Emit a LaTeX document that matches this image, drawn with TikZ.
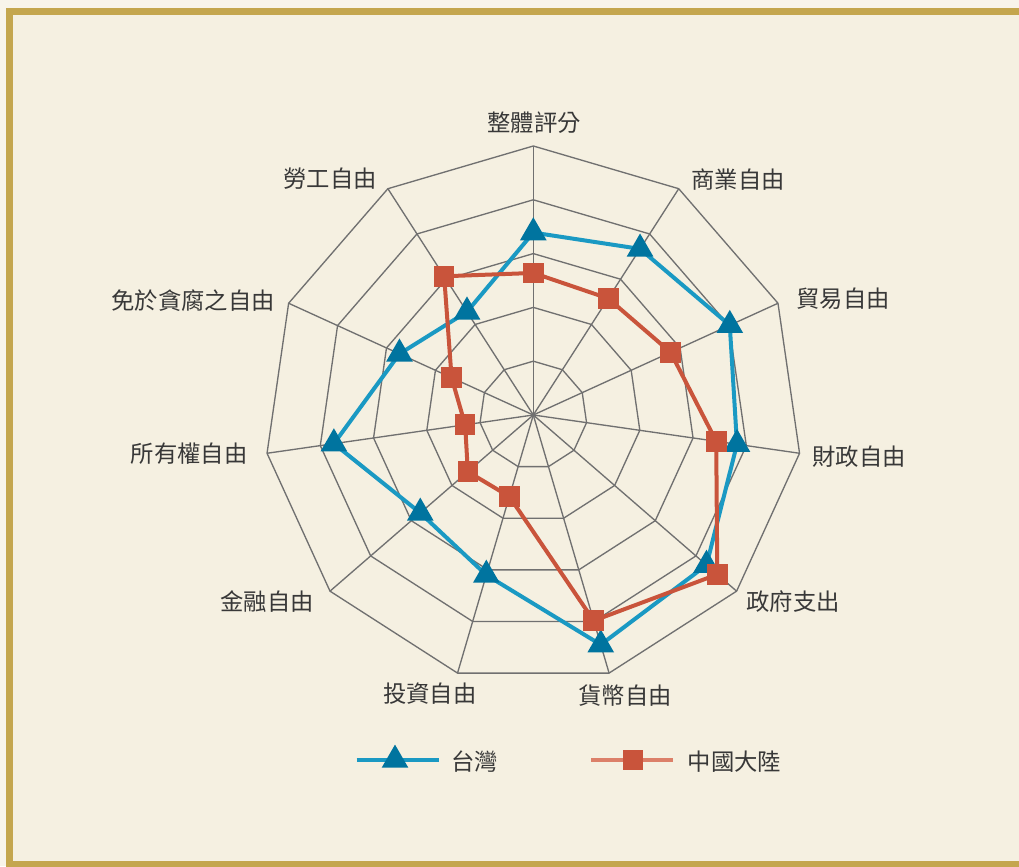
\documentclass[tikz,border=0pt]{standalone}
\usepackage{fontspec}
\setmainfont{Noto Sans CJK TC}
\usetikzlibrary{shapes.geometric}
\definecolor{outside}{HTML}{F8F4EA}
\definecolor{paper}{HTML}{F5F0E1}
\definecolor{goldframe}{HTML}{C4A64E}
\definecolor{gridgray}{HTML}{707070}
\definecolor{twline}{HTML}{1A99C3}
\definecolor{twmark}{HTML}{00749F}
\definecolor{cnline}{HTML}{C9543B}
\definecolor{cnleg}{HTML}{DC8069}
\definecolor{labeltext}{HTML}{383838}
\tikzset{
  gridline/.style={draw=gridgray, line width=1pt},
  twpath/.style={draw=twline, line width=3pt, line join=round},
  cnpath/.style={draw=cnline, line width=3pt, line join=round},
  twmarker/.style={regular polygon, regular polygon sides=3, fill=twmark, inner sep=0pt, minimum size=23.1pt},
  cnmarker/.style={rectangle, fill=cnline, inner sep=0pt, minimum size=15.5pt},
  axislabel/.style={inner sep=0pt, text=labeltext, font=\fontsize{17.5}{20}\selectfont}
}
\begin{document}
\begin{tikzpicture}[x=0.75pt,y=0.75pt]
            \useasboundingbox (0,0) rectangle (1019,866);
            \clip (0,0) rectangle (1019,866);
            \fill[outside] (0,0) rectangle (1019,866);
            \fill[paper] (9.7,1.25) rectangle (1030,854.7);
            \draw[goldframe, line width=5.6pt] (9.7,1.25) rectangle (1030,854.7);
            % radar grid, centre of the chart
            \begin{scope}[shift={(533.3,451)}]
            \coordinate (centre) at (0,0);
            \foreach \lev in {1,...,5}
                \draw[gridline] (90:{\lev*53.8}) \foreach \k in {1,...,10} {-- ({90-\k*360/11}:{\lev*53.8})} -- cycle;
            \foreach \k in {0,...,10}
                \draw[gridline] (centre) -- ({90-\k*360/11}:269);
            % data points
            \foreach \v [count=\k from 0] in {67.8,73.4,80.3,76.5,85.2,89.0,62.0,55.6,74.9,54.7,45.6}
                \coordinate (tw\k) at ({90-\k*360/11}:{\v*2.69});
            \foreach \v [count=\k from 0] in {52.8,51.5,56.1,68.7,90.5,79.7,31.6,32.2,25.6,33.4,61.3}
                \coordinate (cn\k) at ({90-\k*360/11}:{\v*2.69});
            \draw[twpath] (tw0) \foreach \k in {1,...,10} {-- (tw\k)} -- cycle;
            \foreach \k in {0,...,10}
                \node[twmarker] (twm\k) at (tw\k) {};
            \draw[cnpath] (cn0) \foreach \k in {1,...,10} {-- (cn\k)} -- cycle;
            \foreach \k in {0,...,10}
                \node[cnmarker] (cnm\k) at (cn\k) {};
            \end{scope}
            % axis labels
            \node[axislabel] (lab0) at (534,743.5) {整體評分};
            \node[axislabel] (lab1) at (738.3,686) {商業自由};
            \node[axislabel] (lab2) at (843.3,567) {貿易自由};
            \node[axislabel] (lab3) at (859,409) {財政自由};
            \node[axislabel] (lab4) at (793.3,264) {政府支出};
            \node[axislabel] (lab5) at (625,170) {貨幣自由};
            \node[axislabel] (lab6) at (429.7,172) {投資自由};
            \node[axislabel] (lab7) at (267.3,264) {金融自由};
            \node[axislabel] (lab8) at (189,412) {所有權自由};
            \node[axislabel] (lab9) at (193,565) {免於貪腐之自由};
            \node[axislabel] (lab10) at (330.3,687.5) {勞工自由};
            % legend
            \coordinate (twa) at (356.7,106);
            \coordinate (twb) at (439,106);
            \draw[twpath] (twa) -- (twb);
            \node[twmarker] (lgtw) at (395,106) {};
            \node[axislabel, anchor=west] (lgtwtext) at (451,104) {台灣};
            \coordinate (cna) at (591,106);
            \coordinate (cnb) at (672.7,106);
            \draw[draw=cnleg, line width=3pt] (cna) -- (cnb);
            \node[cnmarker] (lgcn) at (633,106) {};
            \node[axislabel, anchor=west] (lgcntext) at (687.7,104) {中國大陸};
        \end{tikzpicture}
\end{document}
